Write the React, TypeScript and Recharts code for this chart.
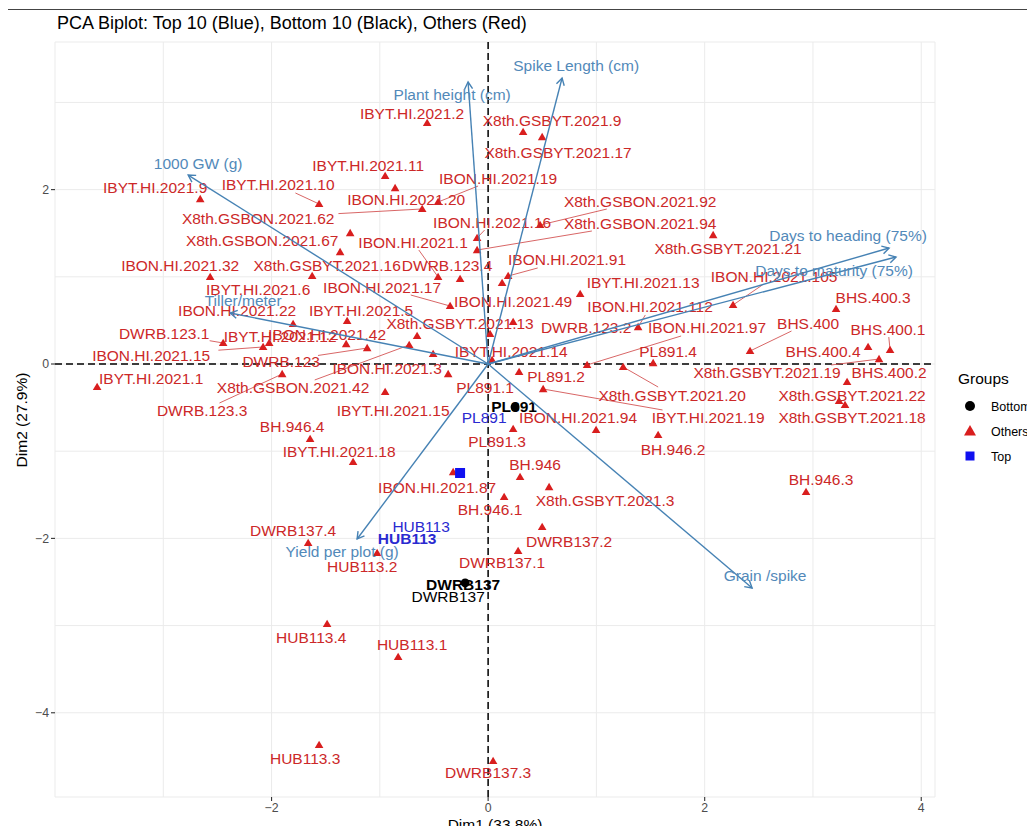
import { CartesianGrid, ReferenceLine, Scatter, ScatterChart, XAxis, YAxis } from "recharts";

// [genotype, Dim1, Dim2, label Dim1, label Dim2]
type Geno = [string, number, number, number, number];

const ibyt: Geno[] = [
  ["IBYT.HI.2021.2", -0.563, 2.764, -0.702, 2.878],
  ["IBYT.HI.2021.9", -2.659, 1.892, -3.075, 2.03],
  ["IBYT.HI.2021.10", -1.561, 1.835, -1.939, 2.053],
  ["IBYT.HI.2021.11", -0.951, 2.156, -1.108, 2.282],
  ["IBYT.HI.2021.6", -1.801, 0.459, -2.124, 0.86],
  ["IBYT.HI.2021.13", 0.85, 0.803, 1.431, 0.94],
  ["IBYT.HI.2021.5", -1.302, 0.493, -1.173, 0.619],
  ["IBYT.HI.2021.12", -1.311, 0.229, -1.921, 0.31],
  ["IBYT.HI.2021.14", 0.037, 0.046, 0.212, 0.149],
  ["IBYT.HI.2021.1", -3.611, -0.264, -3.112, -0.172],
  ["IBYT.HI.2021.15", -0.951, -0.321, -0.877, -0.539],
  ["IBYT.HI.2021.19", 0.508, -0.287, 2.032, -0.619],
  ["IBYT.HI.2021.18", -1.247, -1.124, -1.376, -0.998],
];

const ibon: Geno[] = [
  ["IBON.HI.2021.19", -0.462, 1.858, 0.092, 2.133],
  ["IBON.HI.2021.20", -0.859, 2.018, -0.757, 1.881],
  ["IBON.HI.2021.16", -0.102, 1.445, 0.037, 1.628],
  ["IBON.HI.2021.1", -0.462, 0.998, -0.693, 1.399],
  ["IBON.HI.2021.91", 0.185, 1.009, 0.729, 1.193],
  ["IBON.HI.2021.32", -2.567, 0.998, -2.844, 1.124],
  ["IBON.HI.2021.105", 2.262, 0.677, 2.641, 0.998],
  ["IBON.HI.2021.17", -0.351, 0.665, -0.979, 0.883],
  ["IBON.HI.2021.49", 0.129, 0.929, 0.231, 0.722],
  ["IBON.HI.2021.112", 1.385, 0.424, 1.496, 0.654],
  ["IBON.HI.2021.22", -2.022, 0.241, -2.318, 0.608],
  ["IBON.HI.2021.97", 0.914, -0.011, 2.022, 0.413],
  ["IBON.HI.2021.42", -0.656, 0.321, -1.487, 0.344],
  ["IBON.HI.2021.15", -2.078, 0.195, -3.112, 0.103],
  ["IBON.HI.2021.3", -0.508, 0.115, -0.933, -0.057],
  ["IBON.HI.2021.94", 0.997, -0.757, 0.831, -0.619],
  ["IBON.HI.2021.87", -0.323, -1.239, -0.471, -1.411],
];

const x8th: Geno[] = [
  ["X8th.GSBYT.2021.9", 0.323, 2.661, 0.591, 2.798],
  ["X8th.GSBYT.2021.17", 0.499, 2.603, 0.646, 2.431],
  ["X8th.GSBON.2021.92", 0.48, 1.594, 1.404, 1.869],
  ["X8th.GSBON.2021.62", -0.609, 1.778, -2.124, 1.674],
  ["X8th.GSBON.2021.94", -0.102, 1.307, 1.404, 1.617],
  ["X8th.GSBON.2021.67", -1.367, 1.284, -2.087, 1.411],
  ["X8th.GSBYT.2021.21", 2.078, 1.479, 2.216, 1.319],
  ["X8th.GSBYT.2021.16", -1.625, 1.009, -1.487, 1.124],
  ["X8th.GSBYT.2021.13", 0.018, 0.344, -0.259, 0.47],
  ["X8th.GSBYT.2021.19", 3.61, 0.057, 2.576, -0.103],
  ["X8th.GSBON.2021.42", -0.729, 0.218, -1.801, -0.275],
  ["X8th.GSBYT.2021.20", 1.247, -0.034, 1.699, -0.356],
  ["X8th.GSBYT.2021.22", 3.241, -0.424, 3.361, -0.356],
  ["X8th.GSBYT.2021.18", 3.296, -0.47, 3.361, -0.619],
  ["X8th.GSBYT.2021.3", 0.563, -1.411, 1.08, -1.571],
];

const bh: Geno[] = [
  ["BHS.400.3", 3.213, 0.631, 3.555, 0.757],
  ["BHS.400", 2.419, 0.149, 2.955, 0.47],
  ["BHS.400.1", 3.712, 0.161, 3.693, 0.401],
  ["BHS.400.4", 3.509, 0.195, 3.093, 0.138],
  ["BHS.400.2", 3.315, -0.206, 3.703, -0.103],
  ["BH.946.4", -1.644, -0.86, -1.81, -0.722],
  ["BH.946.2", 1.57, -0.814, 1.708, -0.986],
  ["BH.946", 0.295, -1.296, 0.434, -1.158],
  ["BH.946.3", 2.936, -1.468, 3.075, -1.33],
  ["BH.946.1", 0.148, -1.525, 0.018, -1.663],
];

const dwrb: Geno[] = [
  ["DWRB.123.4", -0.259, 0.975, -0.379, 1.124],
  ["DWRB.123.2", 0.231, 0.482, 0.905, 0.413],
  ["DWRB.123.1", -2.447, 0.241, -2.992, 0.355],
  ["DWRB.123", -1.117, 0.183, -1.911, 0.034],
  ["DWRB.123.3", -1.902, -0.115, -2.641, -0.539],
  ["DWRB137.4", -1.662, -2.053, -1.801, -1.915],
  ["DWRB137.2", 0.499, -1.869, 0.748, -2.03],
  ["DWRB137.1", 0.277, -2.144, 0.129, -2.282],
  ["DWRB137.3", 0.046, -4.553, 0.0, -4.69],
];

const hub: Geno[] = [
  ["HUB113.2", -1.025, -2.167, -1.163, -2.328],
  ["HUB113.4", -1.487, -2.982, -1.634, -3.142],
  ["HUB113.1", -0.831, -3.36, -0.702, -3.222],
  ["HUB113.3", -1.561, -4.369, -1.69, -4.53],
];

const pl: Geno[] = [
  ["PL891.4", 1.524, 0.011, 1.662, 0.138],
  ["PL891.2", 0.286, -0.092, 0.628, -0.149],
  ["PL891.1", -0.369, -0.115, -0.028, -0.275],
  ["PL891.3", 0.231, -0.745, 0.083, -0.894],
];

// points ggrepel left without a label
const unlabeledOthers: [number, number][] = [[-1.274, 1.502]];

// genotypes whose label is joined to its point by a segment
const segmentNames = [
  "IBYT.HI.2021.10", "IBON.HI.2021.19", "X8th.GSBON.2021.92", "X8th.GSBON.2021.62",
  "IBON.HI.2021.16", "X8th.GSBON.2021.94", "IBON.HI.2021.1", "IBON.HI.2021.91",
  "IBON.HI.2021.105", "IBON.HI.2021.17", "IBON.HI.2021.112", "IBON.HI.2021.97",
  "BHS.400", "BHS.400.1", "DWRB.123.1", "IBON.HI.2021.15", "DWRB.123",
  "X8th.GSBON.2021.42", "DWRB.123.3", "IBYT.HI.2021.19", "X8th.GSBYT.2021.20",
  "X8th.GSBYT.2021.19",
];

const topPoints: [number, number][] = [[-0.259, -1.25]];
const topLabels: [string, number, number][] = [
  ["PL891", -0.037, -0.608],
  ["HUB113", -0.619, -1.869],
  ["HUB113", -0.748, -2.007],
];
const bottomPoints: [number, number][] = [[0.249, -0.493], [-0.212, -2.511]];
const bottomLabels: [string, number, number][] = [
  ["PL891", 0.24, -0.482],
  ["DWRB137", -0.231, -2.534],
  ["DWRB137", -0.369, -2.672],
];
const topBold = [false, false, true];
const bottomBold = [true, true, false];

// [variable, arrow tip Dim1, Dim2, label Dim1, label Dim2]
const variables: [string, number, number, number, number][] = [
  ["Plant height (cm)", -0.185, 3.234, -0.332, 3.096],
  ["Spike Length (cm)", 0.683, 3.28, 0.813, 3.429],
  ["1000 GW (g)", -2.77, 2.167, -2.678, 2.294],
  ["Tiller/meter", -2.382, 0.585, -2.262, 0.734],
  ["Days to heading (75%)", 3.703, 1.33, 3.324, 1.479],
  ["Days to maturity (75%)", 3.767, 1.227, 3.195, 1.078],
  ["Grain /spike", 2.438, -2.569, 2.558, -2.42],
  ["Yield per plot (g)", -1.21, -2.007, -1.348, -2.156],
];

const xTicks = [-3, -2, -1, 0, 1, 2, 3, 4];
const yTicks = [-4, -3, -2, -1, 0, 1, 2, 3];
const xMajor = [-2, 0, 2, 4];
const yMajor = [-4, -2, 0, 2];

const FONT = '"Liberation Sans", Arial, Helvetica, sans-serif';
const RED = "#d91e1e";
const RED_TEXT = "#cc2828";
const BLUE = "#1010f0";
const BLUE_TEXT = "#2a2ad0";
const ARROW = "#4682b4";
const ARROW_TEXT = "#5289b9";

const CHART_W = 1019;
const CHART_H = 818;
const MARGIN = { top: 34, right: 92, bottom: 0, left: 0 };
const Y_AXIS_W = 47;
const X_AXIS_H = 29;
const X_DOMAIN: [number, number] = [-4.0, 4.127];
const Y_DOMAIN: [number, number] = [-4.966, 3.693];
const PLOT_W = CHART_W - MARGIN.left - MARGIN.right - Y_AXIS_W;
const PLOT_H = CHART_H - MARGIN.top - MARGIN.bottom - X_AXIS_H;
const PLOT_BOTTOM = MARGIN.top + PLOT_H;
const KX = PLOT_W / (X_DOMAIN[1] - X_DOMAIN[0]);
const KY = PLOT_H / (Y_DOMAIN[1] - Y_DOMAIN[0]);

const others = [...ibyt, ...ibon, ...x8th, ...bh, ...dwrb, ...hub, ...pl];
const otherPoints = [
  ...others.map(([name, x, y]) => ({ name, x, y })),
  ...unlabeledOthers.map(([x, y]) => ({ name: "", x, y })),
];
const otherLabels = others.map(([name, , , lx, ly]) => ({ name, x: lx, y: ly }));
const topLabelData = topLabels.map(([name, x, y], i) => ({ name, x, y, bold: topBold[i] }));
const bottomLabelData = bottomLabels.map(([name, x, y], i) => ({ name, x, y, bold: bottomBold[i] }));

// where the segment leaves the label box, ggrepel style
function segmentFor([name, px, py, lx, ly]: Geno) {
  const hw = name.length * 4.35 + 2;
  const hh = 8;
  const dxp = Math.abs((px - lx) * KX);
  const dyp = Math.abs((py - ly) * KY);
  const t = Math.min(dxp ? hw / dxp : Infinity, dyp ? hh / dyp : Infinity);
  if (t >= 1) return null;
  return [
    { x: lx + (px - lx) * t, y: ly + (py - ly) * t },
    { x: px, y: py },
  ];
}
const segments = others
  .filter((g) => segmentNames.includes(g[0]))
  .map((g) => ({ name: g[0], pts: segmentFor(g) }))
  .filter((s) => s.pts);

const Empty = () => <g />;

const Triangle = (p: any) => (
  <path
    d={`M${p.cx},${p.cy - 4.3}L${p.cx + 4.3},${p.cy + 3.1}L${p.cx - 4.3},${p.cy + 3.1}Z`}
    fill={RED}
  />
);

const Square = (p: any) => <rect x={p.cx - 5} y={p.cy - 5} width={10} height={10} fill={BLUE} />;

const Dot = (p: any) => <circle cx={p.cx} cy={p.cy} r={4.5} fill="#000" />;

const labelShape = (color: string, size: number) => (p: any) => (
  <text
    x={p.cx}
    y={p.cy}
    textAnchor="middle"
    dominantBaseline="central"
    fill={color}
    fontSize={size}
    fontWeight={p.payload.bold ? "bold" : "normal"}
    fontFamily={FONT}
  >
    {p.payload.name}
  </text>
);

const arrowHead = (tx: number, ty: number) => (p: any) => {
  if (!p.payload.tip) return <g />;
  const ang = Math.atan2(-ty * KY, tx * KX);
  const len = 8;
  const a1 = ang + Math.PI - Math.PI / 6;
  const a2 = ang + Math.PI + Math.PI / 6;
  return (
    <path
      d={`M${p.cx + len * Math.cos(a1)},${p.cy + len * Math.sin(a1)}L${p.cx},${p.cy}L${p.cx + len * Math.cos(a2)},${p.cy + len * Math.sin(a2)}`}
      stroke={ARROW}
      strokeWidth={1.4}
      fill="none"
    />
  );
};

const XTick = (p: any) => {
  const v = p.payload.value;
  if (!xMajor.includes(v)) return <g />;
  const x = p.payload.coordinate ?? p.x;
  return (
    <g>
      <line x1={x} x2={x} y1={PLOT_BOTTOM} y2={PLOT_BOTTOM + 4} stroke="#333" strokeWidth={1.1} />
      <text x={x} y={PLOT_BOTTOM + 15} textAnchor="middle" fill="#4d4d4d" fontSize={12.3} fontFamily={FONT}>
        {v < 0 ? `\u2212${-v}` : v}
      </text>
    </g>
  );
};

const YTick = (p: any) => {
  const v = p.payload.value;
  if (!yMajor.includes(v)) return <g />;
  const y = p.payload.coordinate ?? p.y;
  const edge = MARGIN.left + Y_AXIS_W;
  return (
    <g>
      <line x1={edge - 4} x2={edge} y1={y} y2={y} stroke="#333" strokeWidth={1.1} />
      <text x={edge - 6} y={y + 4.4} textAnchor="end" fill="#4d4d4d" fontSize={12.3} fontFamily={FONT}>
        {v < 0 ? `\u2212${-v}` : v}
      </text>
    </g>
  );
};

export default function App() {
  return (
    <div style={{ position: "relative", width: CHART_W, height: CHART_H, fontFamily: FONT }}>
      <ScatterChart width={CHART_W} height={CHART_H} margin={MARGIN}>
        <CartesianGrid stroke="#ebebeb" strokeWidth={1} />
        <XAxis
          type="number"
          dataKey="x"
          domain={X_DOMAIN}
          ticks={xTicks}
          allowDataOverflow
          height={X_AXIS_H}
          axisLine={false}
          tickLine={false}
          tick={XTick}
          interval={0}
        />
        <YAxis
          type="number"
          dataKey="y"
          domain={Y_DOMAIN}
          ticks={yTicks}
          allowDataOverflow
          width={Y_AXIS_W}
          axisLine={false}
          tickLine={false}
          tick={YTick}
          interval={0}
        />
        <ReferenceLine x={0} stroke="#000" strokeWidth={1.5} strokeDasharray="7 4" />
        <ReferenceLine y={0} stroke="#000" strokeWidth={1.5} strokeDasharray="7 4" />

        {segments.map((s) => (
          <Scatter
            key={`seg-${s.name}`}
            data={s.pts!}
            line={{ stroke: "#d45555", strokeWidth: 0.9 }}
            shape={Empty}
            isAnimationActive={false}
          />
        ))}

        <Scatter data={otherPoints} shape={Triangle} isAnimationActive={false} />
        <Scatter data={topPoints.map(([x, y]) => ({ x, y }))} shape={Square} isAnimationActive={false} />
        <Scatter data={bottomPoints.map(([x, y]) => ({ x, y }))} shape={Dot} isAnimationActive={false} />

        <Scatter data={otherLabels} shape={labelShape(RED_TEXT, 15.5)} isAnimationActive={false} />
        <Scatter data={topLabelData} shape={labelShape(BLUE_TEXT, 15.5)} isAnimationActive={false} />
        <Scatter data={bottomLabelData} shape={labelShape("#000", 15.5)} isAnimationActive={false} />

        {variables.map(([name, tx, ty]) => (
          <Scatter
            key={`arrow-${name}`}
            data={[
              { x: 0, y: 0, tip: false },
              { x: tx, y: ty, tip: true },
            ]}
            line={{ stroke: ARROW, strokeWidth: 1.4 }}
            shape={arrowHead(tx, ty)}
            isAnimationActive={false}
          />
        ))}
        <Scatter
          data={variables.map(([name, , , lx, ly]) => ({ name, x: lx, y: ly }))}
          shape={labelShape(ARROW_TEXT, 15.5)}
          isAnimationActive={false}
        />
      </ScatterChart>

      {/* titles, legend and frame, in page coordinates */}
      <svg
        width={1035}
        height={834}
        style={{ position: "absolute", left: -8, top: -8, pointerEvents: "none" }}
        fontFamily={FONT}
      >
        <rect x={7.5} y={9.5} width={1026} height={840} fill="none" stroke="#444" strokeWidth={1} />
        <text x={57} y={29} fontSize={18} fill="#000">
          PCA Biplot: Top 10 (Blue), Bottom 10 (Black), Others (Red)
        </text>
        <text x={495} y={830} fontSize={15.5} textAnchor="middle" fill="#000">
          Dim1 (33.8%)
        </text>
        <text transform="translate(27,420) rotate(-90)" fontSize={15.5} textAnchor="middle" fill="#000">
          Dim2 (27.9%)
        </text>

        {/* legend */}
        <text x={958} y={384} fontSize={15.5} fill="#000">
          Groups
        </text>
        <circle cx={970} cy={406} r={5} fill="#000" />
        <text x={991} y={410.5} fontSize={12.5} fill="#000">
          Bottom
        </text>
        <path d="M970,425L976,435.5L964,435.5Z" fill={RED} />
        <text x={991} y={435.5} fontSize={12.5} fill="#000">
          Others
        </text>
        <rect x={965.5} y={451.5} width={9} height={9} fill={BLUE} />
        <text x={991} y={460.5} fontSize={12.5} fill="#000">
          Top
        </text>
      </svg>
    </div>
  );
}
